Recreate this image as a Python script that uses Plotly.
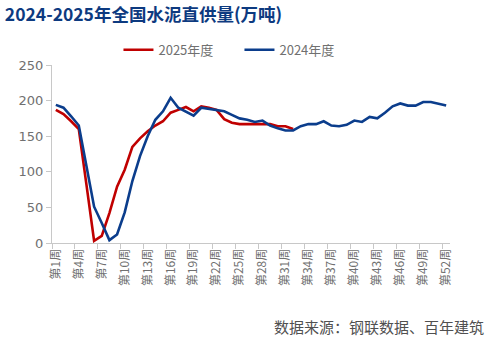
import plotly.graph_objects as go

# Categories
week_nums = list(range(1, 53))
week_labels = [f"第{i}周" for i in week_nums]
tick_weeks = list(range(1, 53, 3))
tick_labels = [f"第{i}周" for i in tick_weeks]

# Series values (万吨)
supply_2025 = [187, 181, 171, 160, 82, 3, 10, 42, 79, 103, 135, 147, 157, 165, 171, 183,
               187, 191, 185, 192, 190, 187, 174, 169, 167, 167, 168, 167, 167, 164, 164, 160]
supply_2024 = [194, 190, 178, 165, 108, 51, 28, 4, 12, 43, 87, 122, 150, 173, 185, 204,
               190, 184, 179, 190, 188, 187, 185, 180, 175, 173, 170, 172, 165, 161, 158, 158,
               164, 167, 167, 171, 165, 164, 166, 172, 170, 177, 175, 183, 192, 196, 193, 193,
               198, 198, 195, 193]

RED = "#C00000"
BLUE = "#0B3D8C"
GRAY_TXT = "#707070"
AXIS = "#C8C8C8"
CJK = "Noto Sans CJK SC"

fig = go.Figure()
fig.add_trace(go.Scatter(x=week_nums[:len(supply_2025)], y=supply_2025, mode="lines",
                         name="2025年度", line=dict(color=RED, width=2.6)))
fig.add_trace(go.Scatter(x=week_nums, y=supply_2024, mode="lines",
                         name="2024年度", line=dict(color=BLUE, width=2.6)))

fig.update_layout(
    width=486, height=338,
    margin=dict(l=52, r=36, t=65, b=95),
    paper_bgcolor="white", plot_bgcolor="white",
    font=dict(family=CJK, size=13, color=GRAY_TXT),
    title=dict(text="<b>2024-2025年全国水泥直供量(万吨)</b>", x=0.01, xref="container",
               xanchor="left", y=0.957, yref="container", yanchor="middle",
               font=dict(family=CJK, size=17.5, color="#0D3A80")),
    showlegend=True,
    legend=dict(orientation="h", x=0.167, xref="paper", y=1.085, yanchor="middle",
                xanchor="left", font=dict(family=CJK, size=13, color=GRAY_TXT),
                bgcolor="rgba(0,0,0,0)", entrywidth=76, entrywidthmode="pixels",
                tracegroupgap=0),
    xaxis=dict(range=[0.5, 52.5], tickmode="array", tickvals=tick_weeks, ticktext=tick_labels,
               tickangle=-90, ticks="", showline=True, linecolor=AXIS, linewidth=1,
               showgrid=False, zeroline=False,
               tickfont=dict(family=CJK, size=12, color=GRAY_TXT),
               minor=dict(tick0=0.5, dtick=3, ticks="outside", ticklen=5, tickcolor=AXIS,
                          tickwidth=1, showgrid=False)),
    yaxis=dict(range=[0, 250], dtick=50, ticks="outside", ticklen=5, tickcolor=AXIS,
               showline=True, linecolor=AXIS, linewidth=1, showgrid=False, zeroline=False,
               tickfont=dict(family="DejaVu Sans", size=13, color=GRAY_TXT)),
    annotations=[dict(text="数据来源：钢联数据、百年建筑", xref="paper", yref="paper",
                      x=1.09, y=-0.47, xanchor="right", yanchor="middle", showarrow=False,
                      font=dict(family=CJK, size=15, color="#505050"))],
)

fig.write_html("out.html", config={"displayModeBar": False})
